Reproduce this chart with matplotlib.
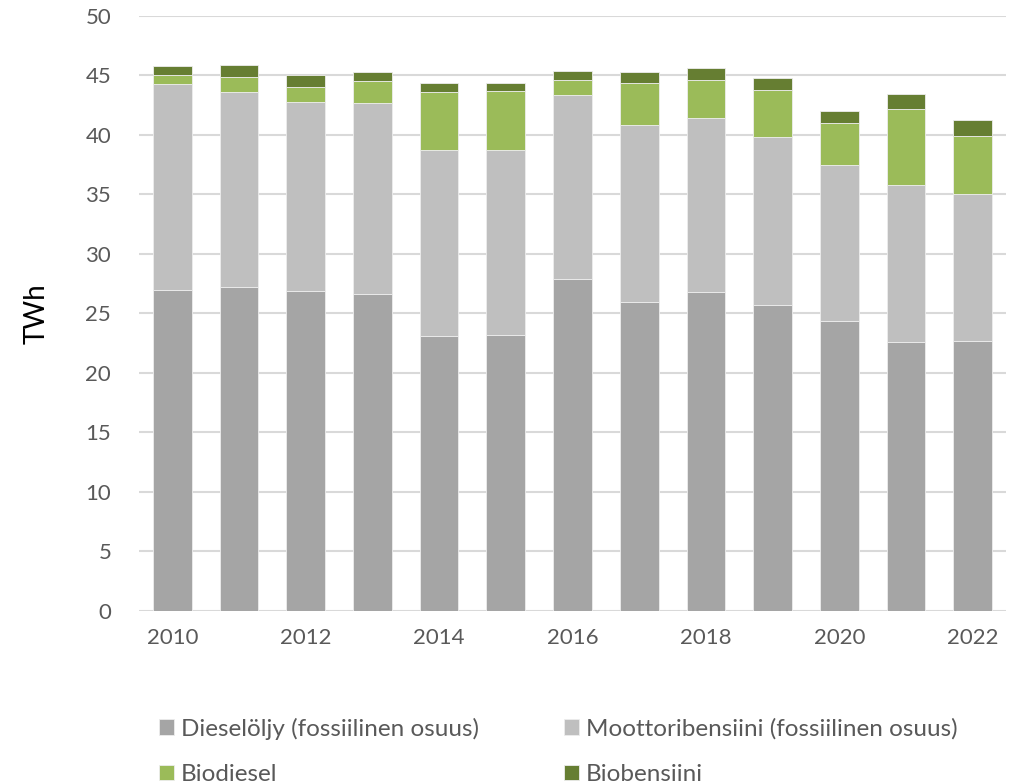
import matplotlib
matplotlib.use("Agg")
import matplotlib.pyplot as plt
import numpy as np

plt.rcParams['font.family'] = ['Lato', 'DejaVu Sans']

years = [2010, 2011, 2012, 2013, 2014, 2015, 2016, 2017, 2018, 2019, 2020, 2021, 2022]
dieseloljy = [27.0, 27.2, 26.9, 26.6, 23.1, 23.2, 27.9, 26.0, 26.8, 25.7, 24.4, 22.6, 22.7]
moottoribensiini = [17.3, 16.4, 15.9, 16.1, 15.6, 15.5, 15.5, 14.8, 14.6, 14.1, 13.1, 13.2, 12.3]
biodiesel = [0.75, 1.3, 1.2, 1.85, 4.9, 5.0, 1.25, 3.6, 3.2, 3.95, 3.5, 6.4, 4.95]
biobensiini = [0.75, 1.0, 1.0, 0.75, 0.8, 0.65, 0.7, 0.9, 1.0, 1.0, 1.0, 1.25, 1.3]

series = [
    ("Dieselöljy (fossiilinen osuus)", dieseloljy, "#A5A5A5"),
    ("Moottoribensiini (fossiilinen osuus)", moottoribensiini, "#BFBFBF"),
    ("Biodiesel", biodiesel, "#9BBB59"),
    ("Biobensiini", biobensiini, "#667E32"),
]

text_col = "#595959"

fig = plt.figure(figsize=(10.25, 7.84), dpi=100)
ax = fig.add_axes([0.1356, 0.2207, 0.8459, 0.7589])

x = np.arange(len(years))
bottom = np.zeros(len(years))
bars = []
for name, vals, col in series:
    b = ax.bar(x, vals, width=0.58, bottom=bottom, color=col, label=name,
               edgecolor="#EDEDED", linewidth=0.6, zorder=3)
    bars.append(b)
    bottom += np.array(vals)

ax.set_xlim(-0.5, len(years) - 0.5)
ax.set_ylim(0, 50)
ax.set_yticks(np.arange(0, 51, 5))
ax.set_xticks(x[::2])
ax.set_xticklabels([str(y) for y in years[::2]])
ax.tick_params(axis='both', length=0, labelsize=16, colors=text_col)
ax.tick_params(axis='x', pad=12)
ax.tick_params(axis='y', pad=20)
ax.grid(axis='y', color="#D9D9D9", linewidth=1.5, zorder=0)
for s in ax.spines.values():
    s.set_visible(False)
ax.set_ylabel("TWh", fontsize=20, color="#000000", labelpad=26)

# two rows: diesel/petrol on top, bio fuels below
handles = [bars[0], bars[2], bars[1], bars[3]]
labels = [series[0][0], series[2][0], series[1][0], series[3][0]]
leg = fig.legend(handles, labels, ncol=2, loc='upper left',
                 bbox_to_anchor=(0.146, 0.097), frameon=False,
                 fontsize=17.5, handlelength=0.6, handleheight=0.6,
                 handletextpad=0.3, columnspacing=3.5, labelspacing=1.0,
                 borderaxespad=0)
for t in leg.get_texts():
    t.set_color(text_col)

fig.savefig("out.png", dpi=100)
